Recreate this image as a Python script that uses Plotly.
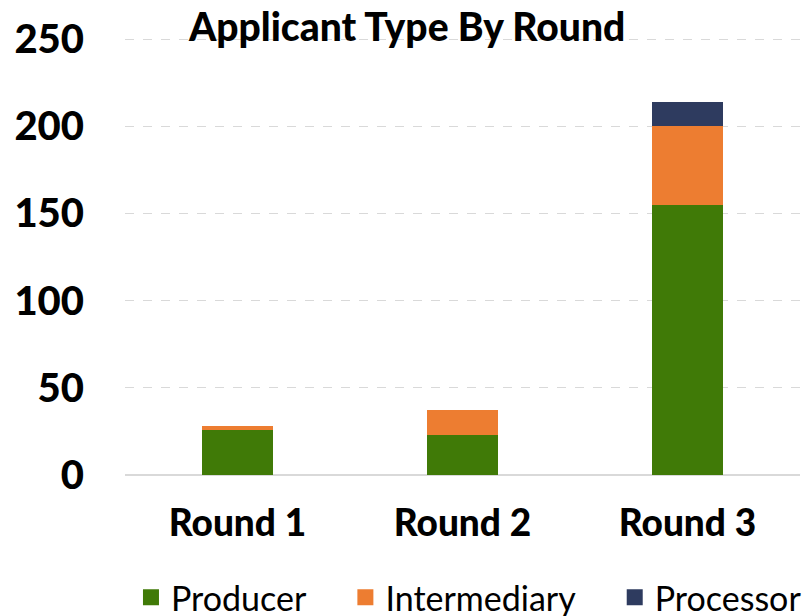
import plotly.graph_objects as go

rounds = ["Round 1", "Round 2", "Round 3"]
producer = [26, 23, 155]
intermediary = [2, 14, 45]
processor = [0, 0, 14]
series_names = ["Producer", "Intermediary", "Processor"]
legend_pad = ["\u00a0\u00a0\u00a0\u00a0", "\u00a0\u00a0\u00a0\u00a0", ""]
y_ticks = [0, 50, 100, 150, 200, 250]

colors = {"Producer": "#407A07", "Intermediary": "#ED7D31", "Processor": "#2E3B5F"}

fig = go.Figure()
for name, vals in zip(series_names, [producer, intermediary, processor]):
    fig.add_trace(go.Bar(x=rounds, y=vals, name=name, showlegend=False,
                         marker=dict(color=colors[name], line=dict(width=0))))
# legend-only entries with larger square symbols
for name, pad in zip(series_names, legend_pad):
    fig.add_trace(go.Scatter(x=[None], y=[None], mode="markers", name=name + pad,
                             marker=dict(symbol="square", size=17, color=colors[name])))

fig.update_layout(
    barmode="stack",
    bargap=0.685,
    width=811, height=616,
    margin=dict(l=125, r=11, t=37, b=141, autoexpand=False),
    plot_bgcolor="white", paper_bgcolor="white",
    font=dict(family="Lato", color="black"),
    title=dict(text="Applicant Type By Round", x=0.502, xanchor="center", y=0.955, yanchor="middle",
               font=dict(family="Lato", size=39, weight=900, color="black")),
    showlegend=True,
    legend=dict(orientation="h", xref="container", x=0.1615, xanchor="left",
                y=-0.28, yanchor="middle",
                font=dict(family="Lato", size=34, color="black"), traceorder="normal",
                itemwidth=30),
    yaxis=dict(range=[0, 251.2], tickvals=y_ticks, showgrid=True,
               gridcolor="#d9d9d9", griddash="dash", gridwidth=1,
               zeroline=True, zerolinecolor="#d9d9d9", zerolinewidth=2,
               tickfont=dict(family="Lato", size=40, weight=900, color="black"),
               ticklabelstandoff=40, showline=False, automargin=False),
    xaxis=dict(tickfont=dict(family="Lato", size=37, weight=900, color="black"),
               ticklabelstandoff=23, showline=False, automargin=False),
)

fig.write_html("out.html", config={"displayModeBar": False},
               post_script="document.body.style.margin='0';")
